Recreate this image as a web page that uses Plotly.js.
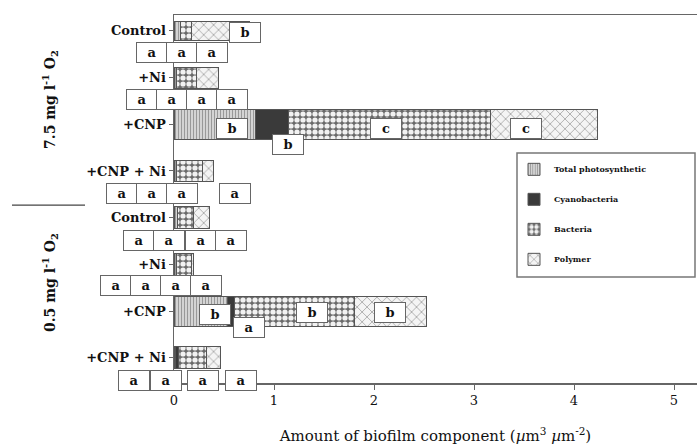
<!DOCTYPE html>
<html><head><meta charset="utf-8">
<script src="https://cdn.plot.ly/plotly-3.0.1.min.js"></script>
<style>html,body{margin:0;padding:0;background:#fff}#chart{width:697px;height:445px}</style>
</head><body><div id="chart"></div>
<script>
// ---- data ----
const categories = ['Control', '+Ni', '+CNP', '+CNP + Ni', 'Control', '+Ni', '+CNP', '+CNP + Ni'];
const groups = ['7.5 mg l<sup>-1</sup> O<sub>2</sub>', '0.5 mg l<sup>-1</sup> O<sub>2</sub>'];
const seriesNames = ['Total photosynthetic', 'Cyanobacteria', 'Bacteria', 'Polymer'];
const photosynthetic = [0.06, 0.02, 0.81, 0.02, 0.03, 0.02, 0.53, 0.01];
const cyanobacteria = [0.00, 0.00, 0.33, 0.00, 0.00, 0.00, 0.07, 0.03];
const bacteria = [0.11, 0.20, 2.02, 0.26, 0.16, 0.15, 1.20, 0.28];
const polymer = [0.58, 0.22, 1.07, 0.11, 0.16, 0.02, 0.72, 0.14];
const xTicks = [0, 1, 2, 3, 4, 5];

// ---- styles ----
const pos = categories.map((_, i) => i);
const barWidths = [0.40, 0.45, 0.65, 0.47, 0.47, 0.47, 0.64, 0.47];
const serif = 'DejaVu Serif, serif';
const outline = {color: '#555', width: 1};
const styles = [
  {color: '#c8c8c8', pattern: {shape: '|', fgcolor: '#999', bgcolor: '#d4d4d4', size: 3, solidity: 0.35}},
  {color: '#3a3a3a', pattern: {shape: '', fgcolor: '#3a3a3a', bgcolor: '#3a3a3a'}},
  {color: '#7a7a7a', pattern: {shape: '.', fgcolor: '#f2f2f2', bgcolor: '#6a6a6a', size: 6, solidity: 0.6}},
  {color: '#f4f4f4', pattern: {shape: 'x', fgcolor: '#9a9a9a', bgcolor: '#f4f4f4', size: 7, solidity: 0.2}}
];
const values = [photosynthetic, cyanobacteria, bacteria, polymer];

const traces = values.map((v, k) => ({
  type: 'bar', orientation: 'h', name: seriesNames[k],
  y: pos, x: v, width: barWidths,
  legendgroup: 'g' + k,
  marker: Object.assign({line: outline}, styles[k]),
  hoverinfo: 'x+name'
}));

const xmin = 0, xmax = 5.23;
const toPaper = x => (x - xmin) / (xmax - xmin);
const pxY = p => 1 - (p - 15) / 368;

// significance letters: [text, x (data units), y (category index)]
const letters = [
  ['a', -0.38, 0.47], ['a', -0.08, 0.47], ['a', 0.22, 0.47], ['b', 0.55, 0.04],
  ['a', -0.48, 1.48], ['a', -0.18, 1.48], ['a', 0.12, 1.48], ['a', 0.42, 1.48],
  ['b', 0.42, 2.08], ['b', 0.98, 2.44], ['c', 2.12, 2.08], ['c', 3.68, 2.08],
  ['a', -0.68, 3.49], ['a', -0.38, 3.49], ['a', -0.08, 3.49], ['a', 0.45, 3.49],
  ['a', -0.51, 4.48], ['a', -0.21, 4.48], ['a', 0.11, 4.48], ['a', 0.41, 4.48],
  ['a', -0.74, 5.46], ['a', -0.44, 5.46], ['a', -0.14, 5.46], ['a', 0.16, 5.46],
  ['b', 0.25, 6.08], ['a', 0.59, 6.36], ['b', 1.22, 6.04], ['b', 2.16, 6.04],
  ['a', -0.56, 7.49], ['a', -0.24, 7.49], ['a', 0.13, 7.49], ['a', 0.51, 7.49]
];

const annotations = letters.map(([t, x, y]) => ({
  text: '<b>' + t + '</b>', xref: 'paper', yref: 'y', x: toPaper(x), y: y,
  showarrow: false, width: 28, height: 17, borderpad: 1, borderwidth: 1,
  bordercolor: '#666', bgcolor: '#fff', font: {family: serif, size: 13, color: '#111'}
}));
annotations.push(
  {text: groups[0], xref: 'paper', yref: 'y', x: toPaper(-1.36), y: 1.48, textangle: -90,
   showarrow: false, font: {family: serif, size: 14, weight: 'bold', color: '#111'}},
  {text: groups[1], xref: 'paper', yref: 'y', x: toPaper(-1.36), y: 5.4, textangle: -90,
   showarrow: false, font: {family: serif, size: 14, weight: 'bold', color: '#111'}}
);

const layout = {
  width: 697, height: 445,
  margin: {l: 174, r: 0, t: 15, b: 62},
  paper_bgcolor: '#fff', plot_bgcolor: '#fff',
  barmode: 'stack', bargap: 0,
  font: {family: serif, color: '#111'},
  xaxis: {
    range: [xmin, xmax], tickvals: xTicks, ticks: 'outside', ticklen: 5, tickcolor: '#666',
    showgrid: false, zeroline: false, showline: true, linecolor: '#666', linewidth: 1.5, mirror: true,
    tickfont: {family: serif, size: 13, color: '#111'},
    title: {text: 'Amount of biofilm component (<i>µ</i>m<sup>3</sup> <i>µ</i>m<sup>-2</sup>)',
            font: {family: serif, size: 15, color: '#111'}, standoff: 23},
    automargin: false
  },
  yaxis: {
    range: [7.54, -0.34], tickvals: pos, ticktext: categories, ticks: 'outside', ticklen: 4, tickcolor: '#666',
    showgrid: false, zeroline: false, showline: true, linecolor: '#666', linewidth: 1.5,
    tickfont: {family: serif, size: 13, weight: 'bold', color: '#111'}, automargin: false
  },
  legend: {
    x: toPaper(3.40), y: 0.62, xanchor: 'left', yanchor: 'top',
    borderwidth: 0, bgcolor: 'rgba(0,0,0,0)',
    traceorder: 'grouped', tracegroupgap: 11,
    font: {family: serif, size: 8, weight: 'bold', color: '#111'}
  },
  shapes: [
    {type: 'line', xref: 'paper', yref: 'y', x0: toPaper(-1.62), x1: toPaper(-0.89), y0: 3.73, y1: 3.73,
     line: {color: '#444', width: 1.2}},
    {type: 'rect', xref: 'paper', yref: 'paper', x0: toPaper(3.43), x1: toPaper(5.21), y0: pxY(277), y1: pxY(153),
     line: {color: '#777', width: 1.5}, fillcolor: 'rgba(0,0,0,0)', layer: 'above'}
  ],
  annotations: annotations,
  showlegend: true
};

Plotly.newPlot('chart', traces, layout, {displayModeBar: false, staticPlot: true});
</script></body></html>
